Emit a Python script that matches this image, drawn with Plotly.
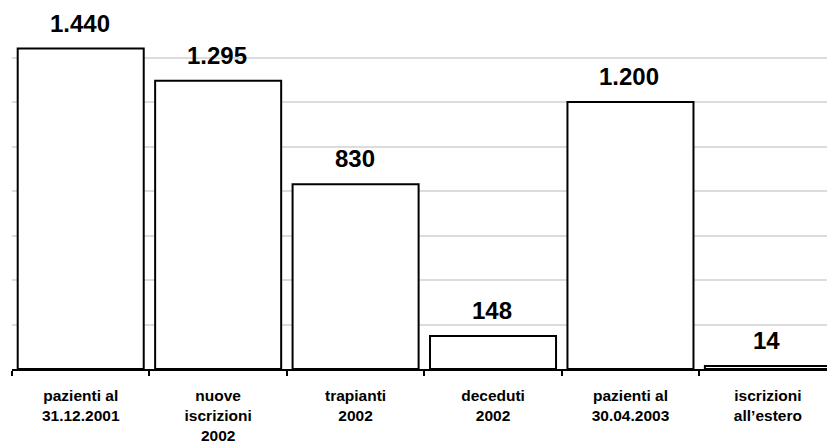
import plotly.graph_objects as go

categories = [
    "pazienti al<br>31.12.2001",
    "nuove<br>iscrizioni<br>2002",
    "trapianti<br>2002",
    "deceduti<br>2002",
    "pazienti al<br>30.04.2003",
    "iscrizioni<br>all\u2019estero",
]
values = [1440, 1295, 830, 148, 1200, 14]
value_labels = ["1.440", "1.295", "830", "148", "1.200", "14"]

FONT = "Liberation Sans, Arial, sans-serif"

fig = go.Figure(
    go.Bar(
        x=categories,
        y=values,
        marker=dict(color="white", line=dict(color="black", width=2)),
        hoverinfo="skip",
    )
)

for cat, val, lab in zip(categories, values, value_labels):
    fig.add_annotation(
        x=cat, y=val, text="<b>%s</b>" % lab, showarrow=False,
        yanchor="bottom", yshift=10, xshift=-1,
        font=dict(family=FONT, size=24, color="black"),
    )

fig.update_layout(
    width=827, height=445,
    margin=dict(l=12, r=0, t=13, b=76),
    paper_bgcolor="white", plot_bgcolor="white",
    bargap=0.083,
    showlegend=False,
    font=dict(family=FONT, color="black"),
)
fig.update_xaxes(
    type="category",
    range=[-0.5, 5.43],
    showline=True, linecolor="black", linewidth=2,
    ticks="outside", tickson="boundaries", ticklen=5, tickwidth=2, tickcolor="black",
    tickfont=dict(family=FONT, size=15.5, color="black"),
    ticklabelstandoff=11,
    tickprefix="<b>", ticksuffix="</b>",
    showgrid=False,
)
fig.update_yaxes(
    range=[0, 1600], dtick=200,
    showticklabels=False, showline=False, zeroline=False,
    showgrid=True, gridcolor="#dcdcdc", gridwidth=2,
)

fig.write_html("out.html")
